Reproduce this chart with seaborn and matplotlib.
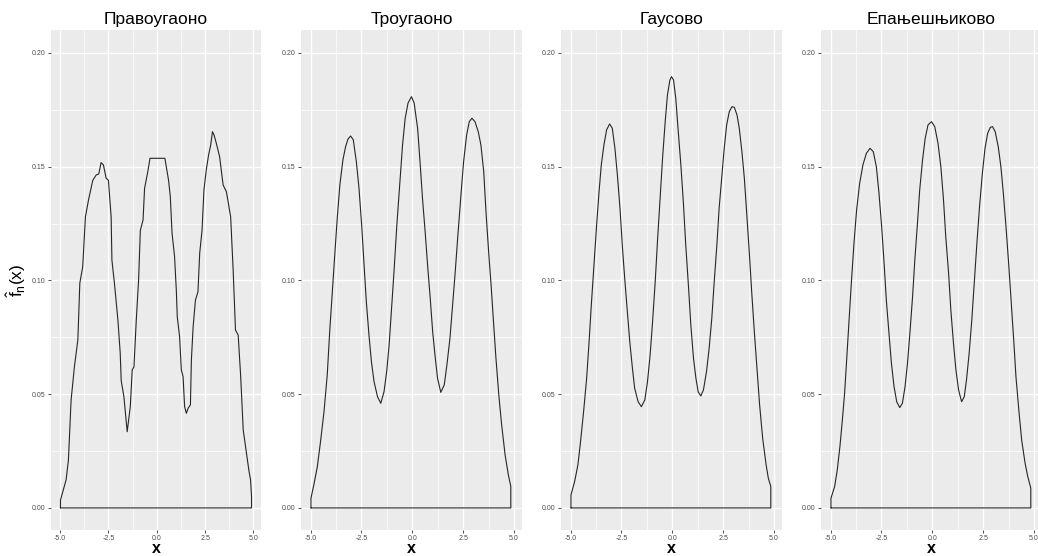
import matplotlib
matplotlib.use("Agg")
import matplotlib.pyplot as plt
from matplotlib.ticker import FixedLocator
import numpy as np
import pandas as pd
import seaborn as sns

# Kernel density estimates of one trimodal sample, four kernels
titles = ["Правоугаоно", "Троугаоно", "Гаусово", "Епањешњиково"]

rect_x = [-4.98, -4.98, -4.69, -4.57, -4.43, -4.26, -4.08, -3.98, -3.83, -3.69, -3.53, -3.31,
          -3.13, -3.00, -2.88, -2.76, -2.62, -2.50, -2.36, -2.32, -2.19, -2.01, -1.89, -1.84,
          -1.70, -1.53, -1.37, -1.27, -1.18, -1.06, -0.94, -0.85, -0.71, -0.63, -0.46, -0.35,
          0.42, 0.61, 0.70, 0.79, 0.92, 1.01, 1.06, 1.18, 1.27, 1.36, 1.44, 1.53, 1.62, 1.74,
          1.79, 1.88, 2.00, 2.13, 2.22, 2.34, 2.44, 2.56, 2.68, 2.79, 2.88, 2.96, 3.08, 3.25,
          3.43, 3.60, 3.69, 3.82, 3.95, 4.07, 4.21, 4.34, 4.47, 4.64, 4.76, 4.85, 4.90, 4.90]
rect_y = [0.0, 0.0035, 0.0123, 0.021, 0.0475, 0.062, 0.074, 0.0988, 0.106, 0.128, 0.1354, 0.144,
          0.1464, 0.1468, 0.1518, 0.1508, 0.145, 0.144, 0.128, 0.109, 0.0988, 0.0826, 0.068, 0.056,
          0.0489, 0.0335, 0.0445, 0.0607, 0.062, 0.0826, 0.1002, 0.122, 0.1266, 0.1405, 0.148, 0.1537,
          0.1537, 0.144, 0.1368, 0.1207, 0.1105, 0.0958, 0.084, 0.0753, 0.0607, 0.0577, 0.0445, 0.0416,
          0.0438, 0.0453, 0.065, 0.0797, 0.0914, 0.095, 0.112, 0.122, 0.1398, 0.1486, 0.1552, 0.1596,
          0.1654, 0.164, 0.1603, 0.1544, 0.142, 0.139, 0.1346, 0.128, 0.1046, 0.0782, 0.076, 0.0577,
          0.0343, 0.024, 0.0167, 0.0123, 0.005, 0.0]

tri_x = [-4.98, -4.98, -4.84, -4.67, -4.51, -4.34, -4.18, -4.05, -3.93, -3.80, -3.69, -3.56, -3.41,
         -3.28, -3.16, -3.03, -2.90, -2.75, -2.62, -2.49, -2.37, -2.26, -2.13, -2.01, -1.88, -1.71,
         -1.55, -1.39, -1.26, -1.14, -1.03, -0.90, -0.76, -0.62, -0.48, -0.35, -0.21, -0.04, 0.09,
         0.26, 0.39, 0.50, 0.63, 0.75, 0.88, 1.00, 1.13, 1.24, 1.40, 1.57, 1.70, 1.85, 1.98, 2.11,
         2.24, 2.39, 2.52, 2.67, 2.80, 2.93, 3.08, 3.24, 3.37, 3.51, 3.62, 3.75, 3.87, 4.00, 4.11,
         4.25, 4.39, 4.56, 4.72, 4.84, 4.84]
tri_y = [0.0, 0.0043, 0.0101, 0.018, 0.0292, 0.0423, 0.0585, 0.079, 0.0951, 0.1127, 0.1273, 0.142,
         0.153, 0.1588, 0.1622, 0.1635, 0.1618, 0.1522, 0.1405, 0.1244, 0.1068, 0.0907, 0.076, 0.0643,
         0.0555, 0.0489, 0.046, 0.0511, 0.0599, 0.0716, 0.0863, 0.1039, 0.1244, 0.142, 0.1596, 0.1713,
         0.178, 0.1808, 0.178, 0.1669, 0.1508, 0.1361, 0.1215, 0.1068, 0.0922, 0.0775, 0.0658, 0.057,
         0.0508, 0.0541, 0.0629, 0.0746, 0.0892, 0.1039, 0.12, 0.1376, 0.1522, 0.164, 0.1698, 0.1713,
         0.1698, 0.1654, 0.1596, 0.1478, 0.1302, 0.1127, 0.098, 0.0804, 0.0658, 0.0497, 0.0365,
         0.0233, 0.0145, 0.0094, 0.0]

gauss_x = [-4.98, -4.98, -4.80, -4.64, -4.51, -4.36, -4.21, -4.10, -3.98, -3.85, -3.72, -3.60, -3.49,
           -3.36, -3.23, -3.08, -2.95, -2.82, -2.70, -2.57, -2.46, -2.34, -2.21, -2.09, -1.96, -1.85,
           -1.68, -1.52, -1.35, -1.22, -1.09, -0.97, -0.84, -0.73, -0.60, -0.48, -0.35, -0.24, -0.12,
           -0.04, 0.06, 0.17, 0.28, 0.42, 0.55, 0.66, 0.80, 0.91, 1.04, 1.16, 1.27, 1.40, 1.53, 1.68,
           1.81, 1.94, 2.06, 2.19, 2.30, 2.44, 2.55, 2.67, 2.80, 2.93, 3.05, 3.18, 3.29, 3.42, 3.54,
           3.65, 3.78, 3.90, 4.03, 4.16, 4.29, 4.44, 4.61, 4.72, 4.84, 4.84]
gauss_y = [0.0, 0.0057, 0.0116, 0.0189, 0.0291, 0.0423, 0.057, 0.0716, 0.0892, 0.1068, 0.1244, 0.139,
           0.1508, 0.1596, 0.1662, 0.1688, 0.1669, 0.1581, 0.1464, 0.1317, 0.1156, 0.101, 0.0863,
           0.0731, 0.0614, 0.0526, 0.0467, 0.0445, 0.0475, 0.0555, 0.0673, 0.0819, 0.0995, 0.1171,
           0.1361, 0.1537, 0.1698, 0.1815, 0.1881, 0.1896, 0.1881, 0.1801, 0.1669, 0.1508, 0.1332,
           0.1156, 0.0966, 0.0804, 0.0658, 0.057, 0.0511, 0.0492, 0.0519, 0.0599, 0.0702, 0.0834,
           0.0995, 0.1156, 0.1317, 0.1464, 0.1581, 0.1684, 0.1742, 0.1764, 0.1761, 0.1727, 0.1669,
           0.1566, 0.1449, 0.1303, 0.1127, 0.0951, 0.0775, 0.0614, 0.0453, 0.0306, 0.0189, 0.013,
           0.0094, 0.0]

epan_x = [-4.98, -4.98, -4.80, -4.67, -4.54, -4.42, -4.31, -4.21, -4.10, -3.98, -3.85, -3.72, -3.57,
          -3.41, -3.24, -3.06, -2.90, -2.75, -2.62, -2.49, -2.37, -2.26, -2.13, -2.01, -1.88, -1.75,
          -1.60, -1.47, -1.34, -1.22, -1.09, -0.97, -0.86, -0.73, -0.62, -0.48, -0.35, -0.21, -0.04,
          0.12, 0.28, 0.42, 0.55, 0.66, 0.80, 0.91, 1.04, 1.16, 1.29, 1.44, 1.57, 1.68, 1.81, 1.94,
          2.06, 2.19, 2.32, 2.46, 2.59, 2.72, 2.85, 2.96, 3.09, 3.24, 3.37, 3.49, 3.62, 3.75, 3.87,
          4.00, 4.11, 4.25, 4.39, 4.56, 4.69, 4.84, 4.84]
epan_y = [0.0, 0.0043, 0.0094, 0.0167, 0.027, 0.0387, 0.0504, 0.065, 0.0812, 0.0988, 0.1163, 0.131,
          0.1427, 0.1508, 0.1559, 0.1581, 0.1566, 0.15, 0.1383, 0.1237, 0.1076, 0.0914, 0.0768,
          0.0636, 0.0533, 0.0467, 0.0441, 0.046, 0.0533, 0.0636, 0.0782, 0.0929, 0.109, 0.1251,
          0.1398, 0.153, 0.1625, 0.1684, 0.1698, 0.1676, 0.1603, 0.15, 0.1354, 0.1193, 0.1032, 0.087,
          0.0724, 0.0607, 0.0519, 0.0467, 0.0489, 0.0563, 0.068, 0.0826, 0.0988, 0.1163, 0.1324,
          0.1471, 0.1581, 0.1647, 0.1673, 0.1676, 0.1654, 0.1588, 0.15, 0.1383, 0.1237, 0.1076,
          0.0914, 0.0738, 0.0577, 0.0431, 0.0299, 0.0196, 0.0138, 0.0087, 0.0]

curves = [(rect_x, rect_y), (tri_x, tri_y), (gauss_x, gauss_y), (epan_x, epan_y)]

x_ticks = [-5.0, -2.5, 0.0, 2.5, 5.0]
x_minor = [-3.75, -1.25, 1.25, 3.75]
y_ticks = [0.00, 0.05, 0.10, 0.15, 0.20]
y_minor = [0.025, 0.075, 0.125, 0.175]

sns.set_theme(style="darkgrid")
plt.rcParams.update({
    "font.family": ["Liberation Sans", "DejaVu Sans"],
    "mathtext.default": "regular",
    "axes.facecolor": "#EBEBEB",
    "figure.facecolor": "white",
    "grid.color": "white",
    "axes.edgecolor": "none",
})

W, H = 1038, 556
fig = plt.figure(figsize=(W / 100, H / 100), dpi=100)

# panel boxes in pixels: left, top, right, bottom
boxes = [(51, 30, 261, 530), (301, 30, 522, 530), (561, 30, 782, 530), (821, 30, 1042, 530)]

for i, ((xs, ys), title, (l, t, r, b)) in enumerate(zip(curves, titles, boxes)):
    ax = fig.add_axes([l / W, 1 - b / H, (r - l) / W, (b - t) / H])
    # closed outline: curve plus baseline back to the start
    px = list(xs) + [xs[0]]
    py = list(ys) + [0.0]
    df = pd.DataFrame({"x": px, "y": py})
    sns.lineplot(data=df, x="x", y="y", sort=False, estimator=None,
                 color="#262626", lw=0.8, ax=ax)
    ax.set_xlim(-5.47, 5.39)
    ax.set_ylim(-0.0097, 0.2101)
    ax.xaxis.set_major_locator(FixedLocator(x_ticks))
    ax.xaxis.set_minor_locator(FixedLocator(x_minor))
    ax.yaxis.set_major_locator(FixedLocator(y_ticks))
    ax.yaxis.set_minor_locator(FixedLocator(y_minor))
    ax.set_xticklabels([f"{v:.1f}" for v in x_ticks])
    ax.set_yticklabels([f"{v:.2f}" for v in y_ticks])
    ax.grid(which="major", color="white", lw=1.0)
    ax.grid(which="minor", color="white", lw=0.5)
    ax.tick_params(which="major", length=2.2, width=0.6, color="#333333",
                   labelsize=5, labelcolor="#4D4D4D", pad=1.5, bottom=True, left=True)
    ax.tick_params(which="minor", length=0)
    for s in ax.spines.values():
        s.set_visible(False)
    ax.set_title(title, fontsize=12.5, pad=4, color="black")
    ax.set_xlabel("x", fontsize=11.5, labelpad=-1, color="black", fontweight="bold")
    if i == 0:
        ax.set_ylabel(r"$\hat{f}_{n}(x)$", fontsize=12.5, labelpad=3, color="black")
    else:
        ax.set_ylabel("")

fig.savefig("out.png", dpi=100)
